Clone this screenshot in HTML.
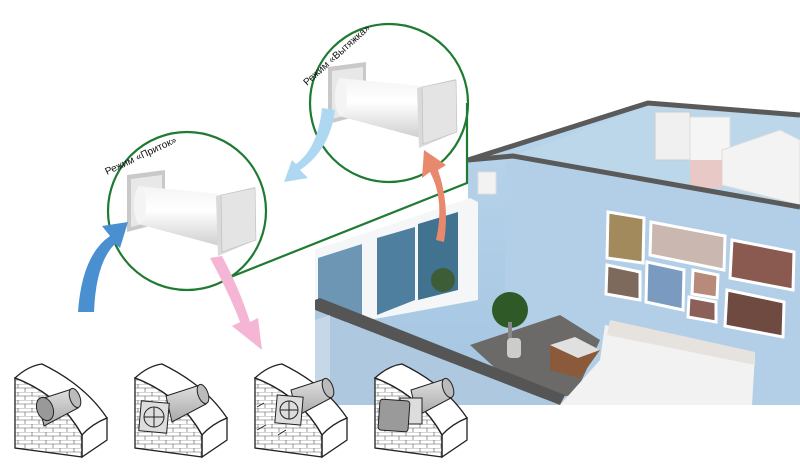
<!DOCTYPE html>
<html><head><meta charset="utf-8"><style>
html,body{margin:0;padding:0;background:#fff;width:800px;height:466px;overflow:hidden}
svg{display:block}
text{font-family:"Liberation Sans",sans-serif}
</style></head><body>
<svg width="800" height="466" viewBox="0 0 800 466" xmlns="http://www.w3.org/2000/svg">
<defs>
<linearGradient id="cyl" x1="0" y1="0" x2="0" y2="1"><stop offset="0" stop-color="#f4f4f4"/><stop offset="0.4" stop-color="#ffffff"/><stop offset="1" stop-color="#cfcfcf"/></linearGradient>
<linearGradient id="wall" x1="0" y1="0" x2="0" y2="1"><stop offset="0" stop-color="#b9d5ec"/><stop offset="1" stop-color="#a4c4e0"/></linearGradient>
<linearGradient id="gcyl" x1="0" y1="0" x2="0" y2="1"><stop offset="0" stop-color="#e0e0e0"/><stop offset="1" stop-color="#a8a8a8"/></linearGradient>
</defs>

<!-- ROOM -->
<polygon points="315,250 468,200 468,160 648,103 800,115 800,405 315,405" fill="url(#wall)"/>
<!-- far room -->
<polygon points="648,106 800,118 800,207 513,156" fill="#bcd6ea"/>
<rect x="655" y="112" width="35" height="48" fill="#f0f0f0" stroke="#ccc"/>
<rect x="690" y="117" width="40" height="45" fill="#f5f5f5" stroke="#ddd"/>
<polygon points="722,150 780,130 800,140 800,205 722,185" fill="#f3f3f3" stroke="#ddd"/>
<rect x="690" y="160" width="32" height="28" fill="#e9c9c6"/>
<!-- back dark top -->
<polyline points="468,160 648,103 800,115" fill="none" stroke="#5a5a5a" stroke-width="5"/>
<polyline points="468,160 513,156 800,207" fill="none" stroke="#5a5a5a" stroke-width="5"/>
<polygon points="505,162 515,159 800,210 800,405 560,405 505,330" fill="#b2cfe7"/>
<!-- wall unit -->
<rect x="478" y="172" width="18" height="22" fill="#f2f2f2" stroke="#ddd"/>
<!-- window -->
<polygon points="315,250 470,198 478,202 478,300 315,330" fill="#f4f6f8"/>
<polygon points="318,258 362,244 362,320 318,325" fill="#6d96b4"/>
<polygon points="377,238 415,227 415,300 377,315" fill="#4f7f9f"/>
<polygon points="418,224 458,212 458,290 418,300" fill="#41728f"/>
<circle cx="443" cy="280" r="12" fill="#3c5d35"/>
<!-- floor -->
<polygon points="470,345 560,315 600,340 575,395 530,400" fill="#6b6a68"/>
<!-- plant -->
<circle cx="510" cy="310" r="18" fill="#2f5a28"/>
<rect x="508" y="322" width="4" height="18" fill="#888"/>
<rect x="507" y="338" width="14" height="20" rx="4" fill="#ccc"/>
<!-- nightstand -->
<polygon points="550,345 575,337 600,350 580,378 550,370" fill="#8a5a3a"/>
<polygon points="550,345 575,337 600,350 578,358" fill="#e0e0e0"/>
<!-- bed -->
<polygon points="605,325 755,355 752,405 560,405 600,360" fill="#f2f2f2"/>
<polygon points="610,320 755,352 755,365 607,335" fill="#e6e3de"/>
<!-- pictures -->
<g stroke="#fff" stroke-width="3">
<polygon points="608,212 644,218 643,263 607,258" fill="#a38a5c"/>
<polygon points="651,222 725,236 724,270 650,255" fill="#c9b7b0"/>
<polygon points="732,240 794,252 793,290 730,278" fill="#8a5a50"/>
<polygon points="607,265 640,272 640,300 606,294" fill="#7d6a5c"/>
<polygon points="647,262 684,270 683,310 646,302" fill="#7a9ac0"/>
<polygon points="693,270 718,275 717,298 692,294" fill="#b88a7a"/>
<polygon points="689,297 716,302 716,322 688,317" fill="#8a6058"/>
<polygon points="727,290 784,302 783,337 725,326" fill="#6e4a40"/>
</g>
<!-- front wall -->
<polygon points="315,300 320,298 565,395 560,405 315,310" fill="#555"/>
<polygon points="315,310 560,405 315,405" fill="#adc8df"/>
<polygon points="315,320 330,315 330,405 315,405" fill="#c6d8e8"/>

<!-- green connectors -->
<g fill="none" stroke="#1f7a32" stroke-width="2.2">
<circle cx="187" cy="211" r="79" fill="#fff"/>
<circle cx="389" cy="103" r="79" fill="#fff"/>
<polyline points="467,103 467,183 228,278"/>
</g>

<!-- units -->
<g id="unit">
<polygon points="127,175 165,170 165,222 127,232" fill="#c9c9c9"/>
<polygon points="131,179 162,175 162,219 131,227" fill="#e8e8e8"/>
<polygon points="138,186 220,194 220,246 138,224" fill="url(#cyl)"/>
<ellipse cx="140" cy="205" rx="6" ry="19" fill="#f4f4f4"/>
<polygon points="216,196 255,187 256,240 218,256" fill="#dadada"/>
<polygon points="221,195 255,188 256,240 222,252" fill="#e4e4e4" stroke="#bbb" stroke-width="0.6"/>
</g>
<use href="#unit" transform="translate(201,-108)"/>

<!-- arrows -->
<path d="M78,312 Q82,255 110,236 L102,226 L128,222 L120,248 L115,244 Q96,262 94,312 Z" fill="#4a8fd0"/>
<path d="M335,110 Q330,150 300,170 L308,178 L284,182 L292,160 L296,164 Q318,148 322,108 Z" fill="#aed8f2"/>
<path d="M436,240 Q445,200 430,172 L422,178 L424,150 L446,165 L438,170 Q450,205 444,242 Z" fill="#e8896d"/>
<path d="M210,258 Q230,295 240,322 L232,326 L262,350 L258,318 L250,322 Q240,290 222,256 Z" fill="#f4b6d4"/>

<!-- labels -->
<text x="0" y="0" font-size="10" fill="#111" transform="translate(107,175) rotate(-25)">Режим «Приток»</text>
<text x="0" y="0" font-size="10" fill="#111" transform="translate(307,86) rotate(-42)">Режим «Вытяжка»</text>

<!-- wall icons -->
<defs>
<pattern id="brick" width="14" height="8" patternUnits="userSpaceOnUse">
<path d="M0,0H14M0,4H14M4,0V4M11,4V8" stroke="#555" stroke-width="0.6" fill="none"/>
</pattern>
<g id="blk">
<path d="M15,378 Q60,395 82,435 L82,457 L15,448 Z" fill="#fff"/>
<path d="M15,378 Q60,395 82,435 L82,457 L15,448 Z" fill="url(#brick)"/>
<path d="M15,378 Q28,366 42,364 Q85,385 107,418 Q92,424 82,435 Q60,395 15,378 Z" fill="#fff" stroke="#222" stroke-width="1.3"/>
<path d="M82,435 Q92,424 107,418 L107,440 L82,457 Z" fill="#fff" stroke="#222" stroke-width="1.3"/>
<path d="M15,378 Q60,395 82,435 L82,457 L15,448 Z" fill="none" stroke="#222" stroke-width="1.3"/>
</g>
<g id="pipe">
<polygon points="46,392 80,381 86,400 52,418" fill="url(#gcyl)" stroke="#222" stroke-width="1"/>
<ellipse cx="83" cy="390" rx="5" ry="10" transform="rotate(-20 83 390)" fill="#bbb" stroke="#222" stroke-width="1"/>
</g>
</defs>
<g>
<use href="#blk"/>
<use href="#pipe" transform="translate(-8,8)"/>
<ellipse cx="45" cy="409" rx="8" ry="12" transform="rotate(-20 45 409)" fill="#999" stroke="#222"/>
</g>
<g transform="translate(120,0)">
<use href="#blk"/>
<use href="#pipe" transform="translate(0,4)"/>
<rect x="20" y="402" width="28" height="30" fill="#ddd" stroke="#222" transform="rotate(5 34 417)"/>
<circle cx="34" cy="417" r="10" fill="none" stroke="#222"/>
<path d="M24,417H44M34,407V427" stroke="#222"/>
</g>
<g transform="translate(240,0)">
<use href="#blk"/>
<use href="#pipe" transform="translate(5,-2)"/>
<rect x="36" y="396" width="26" height="28" fill="#ddd" stroke="#222" transform="rotate(5 49 410)"/>
<circle cx="49" cy="410" r="9" fill="none" stroke="#222"/>
<path d="M40,410H58M49,401V419" stroke="#222"/>
<path d="M17,407L24,403M17,430L26,425M38,435L46,430" stroke="#222"/>
</g>
<g transform="translate(360,0)">
<use href="#blk"/>
<use href="#pipe" transform="translate(5,-2)"/>
<rect x="40" y="398" width="22" height="26" fill="#ddd" stroke="#222"/>
<rect x="19" y="400" width="30" height="31" rx="3" fill="#9a9a9a" stroke="#222" transform="rotate(4 34 415)"/>
</g>
</svg>
</body></html>
